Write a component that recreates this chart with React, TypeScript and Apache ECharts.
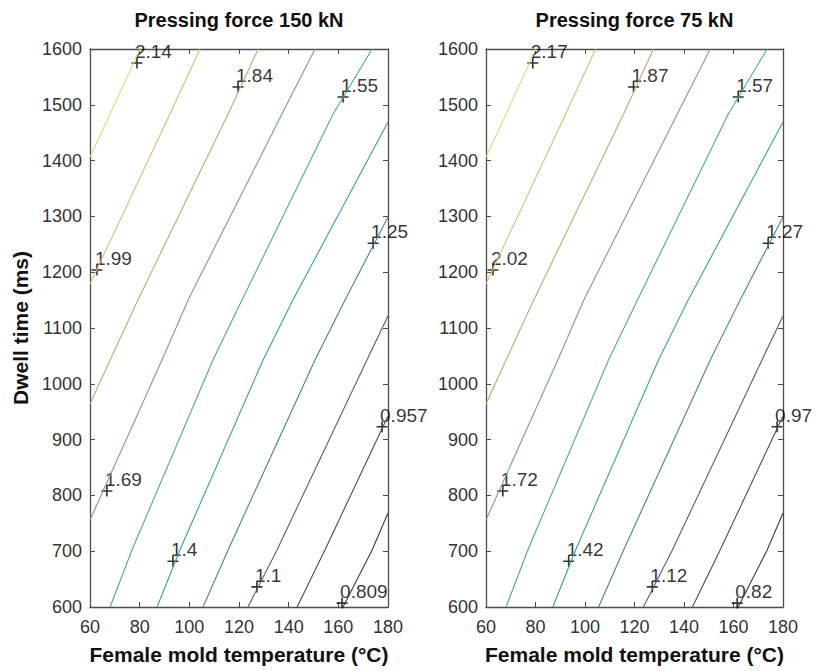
import { useEffect, useRef } from "react";
import * as echarts from "echarts";

// Axis ranges / ticks
const tempMin = 60;
const tempMax = 180;
const tempStep = 20;
const dwellMin = 600;
const dwellMax = 1600;
const dwellStep = 100;

// Panel titles
const titles = ["Pressing force 150 kN", "Pressing force 75 kN"];

// Contour levels (high to low), one list per panel
const levels150 = ["2.14", "1.99", "1.84", "1.69", "1.55", "1.4", "1.25", "1.1", "0.957", "0.809"];
const levels75 = ["2.17", "2.02", "1.87", "1.72", "1.57", "1.42", "1.27", "1.12", "0.97", "0.82"];

// Contour paths: [temperature °C, dwell time ms]
const contour1 = [[80.1, 1600], [68.1, 1483.5], [60, 1406.5]];
const contour2 = [[104.3, 1600], [92.2, 1483.5], [60, 1178.9]];
const contour3 = [[127.7, 1600], [115.6, 1483.5], [79.3, 1150.2], [68.1, 1042.7], [60, 963.8]];
const contour4 = [[150.6, 1600], [137.3, 1483.5], [99.5, 1150.2], [89.0, 1042.7], [60, 755.9]];
const contour5 = [[173.6, 1600], [157.9, 1483.5], [121.2, 1150.2], [109.5, 1042.7], [76.9, 702.1], [68.1, 600]];
const contour6 = [[180, 1469.2], [141.7, 1150.2], [129.7, 1042.7], [96.2, 702.1], [87.0, 600]];
const contour7 = [[180, 1299.0], [162.7, 1150.2], [150.6, 1042.7], [115.6, 702.1], [105.5, 600]];
const contour8 = [[180, 1121.5], [171.5, 1042.7], [135.3, 702.1], [123.6, 600]];
const contour9 = [[180, 942.3], [154.6, 702.1], [143.4, 600]];
const contour10 = [[180, 768.5], [173.6, 702.1], [161.9, 600]];
const contours = [contour1, contour2, contour3, contour4, contour5, contour6, contour7, contour8, contour9, contour10];

// Line colours (high level -> low level)
const lineColors = ["#d3e07a", "#dcbd6c", "#b8ae72", "#7f9c90", "#4aa6ab", "#3a9ea8", "#46839a", "#525f7e", "#4a4a62", "#3d3a50"];

// Label marker positions [temperature, dwell] and their label index into the level list
const markerTemp = [78.9, 119.6, 161.9, 174.0, 62.8, 177.6, 66.8, 93.4, 127.2, 161.5];
const markerDwell = [1575, 1532, 1514, 1252, 1204, 923, 808, 682, 636, 607];
const markerLevel = [0, 2, 4, 6, 1, 8, 3, 5, 7, 9];

const FONT = "'Liberation Sans', Arial, Helvetica, sans-serif";

const grids = [
  { left: 90, top: 49, width: 298, height: 558 },
  { left: 486, top: 49, width: 297, height: 558 },
];

export default function App() {
  const ref = useRef<HTMLDivElement | null>(null);

  useEffect(() => {
    if (!ref.current) return;
    const chart = echarts.init(ref.current, undefined, { renderer: "svg" });

    const axisColor = "#4d4d4d";
    const xAxes: any[] = [];
    const yAxes: any[] = [];
    grids.forEach((_, gi) => {
      ["bottom", "top"].forEach((pos) => {
        xAxes.push({
          gridIndex: gi,
          type: "value",
          position: pos,
          min: tempMin,
          max: tempMax,
          interval: tempStep,
          axisLine: { show: true, onZero: false, lineStyle: { color: axisColor, width: 1.3 } },
          axisTick: { show: true, inside: true, length: 5, lineStyle: { color: axisColor, width: 1 } },
          axisLabel: {
            show: pos === "bottom",
            color: "#333",
            fontSize: 18,
            fontFamily: FONT,
            margin: 11,
            formatter: (v: number) => String(v),
          },
          splitLine: { show: false },
          name: pos === "bottom" ? "Female mold temperature (°C)" : "",
          nameLocation: "middle",
          nameGap: 37,
          nameTextStyle: { fontSize: 21, fontWeight: "bold", color: "#111", fontFamily: FONT },
        });
      });
      ["left", "right"].forEach((pos) => {
        yAxes.push({
          gridIndex: gi,
          type: "value",
          position: pos,
          min: dwellMin,
          max: dwellMax,
          interval: dwellStep,
          axisLine: { show: true, onZero: false, lineStyle: { color: axisColor, width: 1.3 } },
          axisTick: { show: true, inside: true, length: 5, lineStyle: { color: axisColor, width: 1 } },
          axisLabel: {
            show: pos === "left",
            color: "#333",
            fontSize: 18,
            fontFamily: FONT,
            margin: 8,
            formatter: (v: number) => String(v),
          },
          splitLine: { show: false },
          name: pos === "left" && gi === 0 ? "Dwell time (ms)" : "",
          nameLocation: "middle",
          nameRotate: 90,
          nameGap: 59,
          nameTextStyle: { fontSize: 21, fontWeight: "bold", color: "#111", fontFamily: FONT },
        });
      });
    });

    const series: any[] = [];
    [levels150, levels75].forEach((levels, gi) => {
      contours.forEach((path, li) => {
        series.push({
          type: "line",
          name: `${titles[gi]} ${levels[li]}`,
          xAxisIndex: gi * 2,
          yAxisIndex: gi * 2,
          data: path,
          showSymbol: false,
          smooth: false,
          clip: true,
          silent: true,
          lineStyle: { color: lineColors[li], width: 1.1 },
        });
      });
      series.push({
        type: "scatter",
        xAxisIndex: gi * 2,
        yAxisIndex: gi * 2,
        symbol: "path://M5,0L5,10M0,5L10,5",
        symbolSize: 11,
        silent: true,
        itemStyle: { color: "none", borderColor: "#000", borderWidth: 1.6 },
        data: markerTemp.map((t, i) => ({
          name: levels[markerLevel[i]],
          value: [t, markerDwell[i]],
        })),
        label: {
          show: true,
          formatter: "{b}",
          position: [6, 6],
          align: "left",
          verticalAlign: "bottom",
          color: "#000",
          fontSize: 19,
          fontFamily: FONT,
        },
      });
    });

    chart.setOption({
      animation: false,
      backgroundColor: "#ffffff",
      title: titles.map((text, gi) => ({
        text,
        left: grids[gi].left + grids[gi].width / 2,
        top: 10,
        padding: 0,
        textAlign: "center",
        textStyle: { fontSize: 20, fontWeight: "bold", color: "#111", fontFamily: FONT },
      })),
      grid: grids.map((g) => ({ ...g, containLabel: false })),
      xAxis: xAxes,
      yAxis: yAxes,
      series,
    });

    return () => {
      chart.dispose();
    };
  }, []);

  return (
    <div
      ref={ref}
      style={{ position: "fixed", left: 0, top: 0, width: 820, height: 671, background: "#fff" }}
    />
  );
}
